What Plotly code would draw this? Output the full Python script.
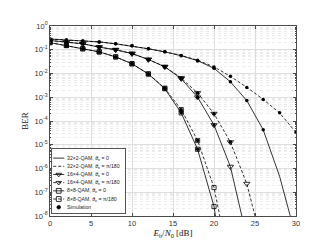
import plotly.graph_objects as go

# ---------------- data ----------------
snr32 = [0, 2, 4, 6, 8, 10, 12, 14, 16, 18, 20, 22, 24, 26, 28, 30]
ber32_0 = [0.282, 0.257, 0.234, 0.214, 0.178, 0.145, 0.110, 0.0813, 0.0562, 0.0347,
           0.0166, 4.47e-3, 7.24e-4, 4.27e-5, 4.68e-7, 1.26e-9]
ber32_pi = [0.282, 0.257, 0.234, 0.214, 0.178, 0.145, 0.110, 0.0813, 0.0575, 0.0363,
            0.0191, 7.59e-3, 2.63e-3, 8.13e-4, 2.19e-4, 3.31e-5]

snr16_0 = [0, 2, 4, 6, 8, 10, 12, 14, 16, 18, 20, 22, 24]
ber16_0 = [0.245, 0.209, 0.178, 0.129, 0.100, 0.0692, 0.0389, 0.0191, 6.03e-3, 1.0e-3,
           6.76e-5, 1.20e-6, 1.26e-9]
snr16_pi = [0, 2, 4, 6, 8, 10, 12, 14, 16, 18, 20, 22, 24, 26]
ber16_pi = [0.245, 0.209, 0.178, 0.129, 0.100, 0.0692, 0.0389, 0.0195, 6.46e-3, 1.51e-3,
            2.04e-4, 1.29e-5, 2.29e-7, 4.37e-10]

snr8 = [0, 2, 4, 6, 8, 10, 12, 14, 16, 18, 20, 22]
ber8_0 = [0.200, 0.151, 0.110, 0.0813, 0.0501, 0.0257, 9.55e-3, 2.29e-3, 2.19e-4,
          6.46e-6, 2.51e-8, 1e-12]
ber8_pi = [0.200, 0.151, 0.110, 0.0813, 0.0501, 0.0257, 9.55e-3, 2.40e-3, 3.02e-4,
           1.51e-5, 1.58e-7, 6.3e-11]

# simulation points
sim32_0_x = [0, 2, 4, 6, 8, 10, 12, 14, 16, 18, 20, 22, 24, 26]
sim32_0_y = [0.285, 0.26, 0.236, 0.212, 0.18, 0.146, 0.111, 0.082, 0.0565, 0.034,
             0.0168, 4.5e-3, 7.3e-4, 4.3e-5]
sim32_pi_x = [0, 2, 4, 6, 8, 10, 12, 14, 16, 18, 20, 22, 24, 26, 28, 30]
sim32_pi_y = [0.285, 0.26, 0.236, 0.212, 0.18, 0.146, 0.111, 0.082, 0.0578, 0.0362,
              0.019, 7.6e-3, 2.6e-3, 8.1e-4, 2.2e-4, 3.3e-5]
sim16_0_x = [0, 2, 4, 6, 8, 10, 12, 14, 16, 18, 20]
sim16_0_y = [0.247, 0.21, 0.177, 0.13, 0.1, 0.07, 0.039, 0.019, 6.0e-3, 1.0e-3, 6.8e-5]
sim16_pi_x = [0, 2, 4, 6, 8, 10, 12, 14, 16, 18, 20, 22]
sim16_pi_y = [0.247, 0.21, 0.177, 0.13, 0.1, 0.07, 0.039, 0.0196, 6.5e-3, 1.5e-3,
              2.0e-4, 1.3e-5]
sim8_0_x = [0, 2, 4, 6, 8, 10, 12, 14, 16, 18]
sim8_0_y = [0.2, 0.152, 0.11, 0.081, 0.05, 0.0258, 9.5e-3, 2.3e-3, 2.2e-4, 6.5e-6]
sim8_pi_x = [0, 2, 4, 6, 8, 10, 12, 14, 16, 18]
sim8_pi_y = [0.2, 0.152, 0.11, 0.081, 0.05, 0.0258, 9.5e-3, 2.4e-3, 3.0e-4, 1.5e-5]

x_ticks = [0, 5, 10, 15, 20, 25, 30]
y_tickvals = [1, 1e-1, 1e-2, 1e-3, 1e-4, 1e-5, 1e-6, 1e-7, 1e-8]
y_ticktext = ["10<sup>0</sup>", "10<sup>-1</sup>", "10<sup>-2</sup>", "10<sup>-3</sup>",
              "10<sup>-4</sup>", "10<sup>-5</sup>", "10<sup>-6</sup>", "10<sup>-7</sup>",
              "10<sup>-8</sup>"]

legend_labels = [
    "32×2-QAM, <i>θ</i><sub>e</sub> = 0",
    "32×2-QAM, <i>θ</i><sub>e</sub> = π/180",
    "16×4-QAM, <i>θ</i><sub>e</sub> = 0",
    "16×4-QAM, <i>θ</i><sub>e</sub> = π/180",
    "8×8-QAM, <i>θ</i><sub>e</sub> = 0",
    "8×8-QAM, <i>θ</i><sub>e</sub> = π/180",
    "Simulation",
]
legend_dash = ["solid", "dash", "solid", "dash", "solid", "dash", None]
legend_symbol = [None, None, "triangle-down-open", "triangle-down-open",
                 "square-open", "square-open", "circle"]

# ---------------- figure ----------------
K = "#000000"
LW = 0.8
DASH = "3px,2px"
fig = go.Figure()

theory = [
    (snr32, ber32_0, "solid", None, 0),
    (snr32, ber32_pi, DASH, None, 0),
    (snr16_0, ber16_0, "solid", "triangle-down-open", 5.5),
    (snr16_pi, ber16_pi, DASH, "triangle-down-open", 5.5),
    (snr8, ber8_0, "solid", "square-open", 4.2),
    (snr8, ber8_pi, DASH, "square-open", 4.2),
]
for xs, ys, dash, sym, ms in theory:
    mode = "lines+markers" if sym else "lines"
    fig.add_trace(go.Scatter(
        x=xs, y=ys, mode=mode, showlegend=False,
        line=dict(color=K, width=LW, dash=dash),
        marker=dict(symbol=sym or "circle", size=ms, color=K,
                    line=dict(color=K, width=0.8)),
        xaxis="x", yaxis="y"))

for xs, ys in [(sim32_0_x, sim32_0_y), (sim32_pi_x, sim32_pi_y),
               (sim16_0_x, sim16_0_y), (sim16_pi_x, sim16_pi_y),
               (sim8_0_x, sim8_0_y), (sim8_pi_x, sim8_pi_y)]:
    fig.add_trace(go.Scatter(
        x=xs, y=ys, mode="markers", showlegend=False,
        marker=dict(symbol="circle", size=3.5, color=K),
        xaxis="x", yaxis="y"))

# ---- legend drawn in a small inset axes ----
rows = list(range(len(legend_labels)))
for r, lab, dash, sym in zip(rows, legend_labels, legend_dash, legend_symbol):
    if dash is not None:
        fig.add_trace(go.Scatter(
            x=[1.0, 12.0], y=[r, r], mode="lines", showlegend=False,
            line=dict(color=K, width=LW, dash=dash if dash == "solid" else DASH),
            xaxis="x2", yaxis="y2", hoverinfo="skip"))
    if sym is not None:
        fig.add_trace(go.Scatter(
            x=[6.5], y=[r], mode="markers", showlegend=False,
            marker=dict(symbol=sym, size=4.8 if sym != "circle" else 3.5, color=K,
                        line=dict(color=K, width=0.8)),
            xaxis="x2", yaxis="y2", hoverinfo="skip"))
    fig.add_annotation(x=13.2, y=r, xref="x2", yref="y2", text=lab,
                       showarrow=False, xanchor="left", yanchor="middle",
                       font=dict(size=5.2, color="#222", family="Liberation Sans"))

grid_major = "#dedede"
grid_minor = "#ececec"
axis_col = "#4a4a4a"
tick_font = dict(family="Liberation Sans", size=7.5, color="#333")

fig.update_layout(
    width=319, height=240,
    margin=dict(l=42, r=31, t=17, b=27),
    paper_bgcolor="white", plot_bgcolor="white",
    showlegend=False,
    xaxis=dict(
        range=[0, 30], tickvals=x_ticks, ticks="inside", ticklen=3,
        tickcolor=axis_col, showline=True, linecolor=axis_col, linewidth=0.8,
        mirror="ticks", showgrid=True, gridcolor=grid_major, gridwidth=0.8,
        zeroline=False, tickfont=tick_font,
        title=dict(text="<i>E</i><sub>b</sub>/<i>N</i><sub>0</sub> [dB]",
                   font=dict(family="Liberation Serif", size=9, color="#111"),
                   standoff=2),
    ),
    yaxis=dict(
        type="log", range=[-8, 0], tickmode="array", tickvals=y_tickvals,
        ticktext=y_ticktext, ticks="inside", ticklen=3, tickcolor=axis_col,
        showline=True, linecolor=axis_col, linewidth=0.8, mirror="ticks",
        showgrid=True, gridcolor=grid_major, gridwidth=0.8, zeroline=False,
        tickfont=tick_font,
        minor=dict(dtick="D1", showgrid=True, gridcolor=grid_minor, griddash="dot",
                   ticks="inside", ticklen=1.5, tickcolor=axis_col),
        title=dict(text="BER", font=dict(family="Liberation Serif", size=9, color="#111"),
                   standoff=4),
    ),
    xaxis2=dict(domain=[0.009, 0.304], anchor="y2", range=[0, 72.4],
                showgrid=False, zeroline=False, showticklabels=False, ticks="",
                showline=True, mirror=True, linecolor="#555", linewidth=0.8,
                fixedrange=True),
    yaxis2=dict(domain=[0.014, 0.352], anchor="x2", range=[6.75, -1.1],
                showgrid=False, zeroline=False, showticklabels=False, ticks="",
                showline=True, mirror=True, linecolor="#555", linewidth=0.8,
                fixedrange=True),
)

fig.write_html("out.html")
